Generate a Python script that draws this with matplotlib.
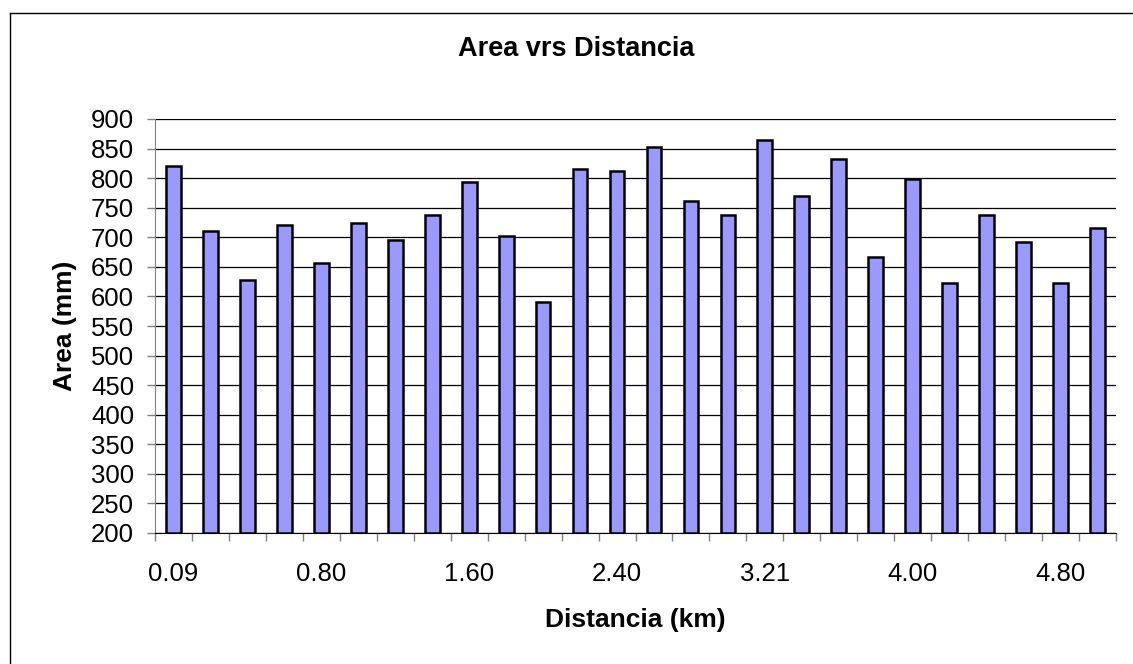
import matplotlib
matplotlib.use("Agg")
import matplotlib.pyplot as plt
from matplotlib.lines import Line2D
import numpy as np

plt.rcParams["font.family"] = ["Liberation Sans", "DejaVu Sans"]

# distance (km) per category, area (mm) per category
DIST = ["0.09", "0.20", "0.40", "0.60", "0.80", "1.00", "1.20", "1.40", "1.60",
        "1.80", "2.00", "2.20", "2.40", "2.60", "2.80", "3.00", "3.21", "3.40",
        "3.60", "3.80", "4.00", "4.20", "4.40", "4.60", "4.80", "5.00"]
AREA = [821, 711, 627, 720, 657, 725, 696, 737, 794, 702, 590, 815, 812,
        852, 761, 738, 864, 769, 832, 666, 798, 622, 737, 692, 623, 716]
YTICKS = list(range(200, 901, 50))
LABEL_EVERY = 4

W, H = 1133, 664
fig = plt.figure(figsize=(W / 100, H / 100), dpi=100)
ax = fig.add_axes([155 / W, 1 - 533 / H, (1116 - 155) / W, (533 - 119) / H])

x = np.arange(len(AREA))
ax.bar(x, [a - 200 for a in AREA], bottom=200, width=0.4, color="#9999ff",
       edgecolor="black", linewidth=1.8, zorder=3)

ax.set_xlim(-0.5, len(AREA) - 0.5)
ax.set_ylim(200, 900)
ax.set_yticks(YTICKS)
for y in YTICKS:
    ax.axhline(y, color="black", lw=0.9, zorder=1)

ax.set_xticks(x[::LABEL_EVERY])
ax.set_xticklabels(DIST[::LABEL_EVERY])
ax.set_xticks(np.arange(-0.5, len(AREA)), minor=True)
ax.tick_params(axis="x", which="major", length=0, pad=21, labelsize=18.5)
ax.tick_params(axis="x", which="minor", length=6, width=1, color="#808080")
ax.tick_params(axis="y", length=6, width=1, color="#808080", pad=9, labelsize=18.5)

for s in ["top", "right"]:
    ax.spines[s].set_visible(False)
ax.spines["left"].set_color("#808080")
ax.spines["bottom"].set_color("black")

fig.text(576 / W, 1 - 49 / H, "Area vrs Distancia", fontsize=19.5, fontweight="bold",
         ha="center", va="center")
ax.set_xlabel("Distancia (km)", fontsize=19, fontweight="bold", labelpad=16)
ax.set_ylabel("Area (mm)", fontsize=19, fontweight="bold", labelpad=10)

# chart area border (extends past the image on right/bottom)
fig.add_artist(Line2D([9.5 / W, 9.5 / W], [1 - 12.5 / H, -0.1], color="black", lw=1.0))
fig.add_artist(Line2D([9.5 / W, 1.1], [1 - 12.5 / H, 1 - 12.5 / H], color="black", lw=1.0))

fig.savefig("out.png", dpi=100)
